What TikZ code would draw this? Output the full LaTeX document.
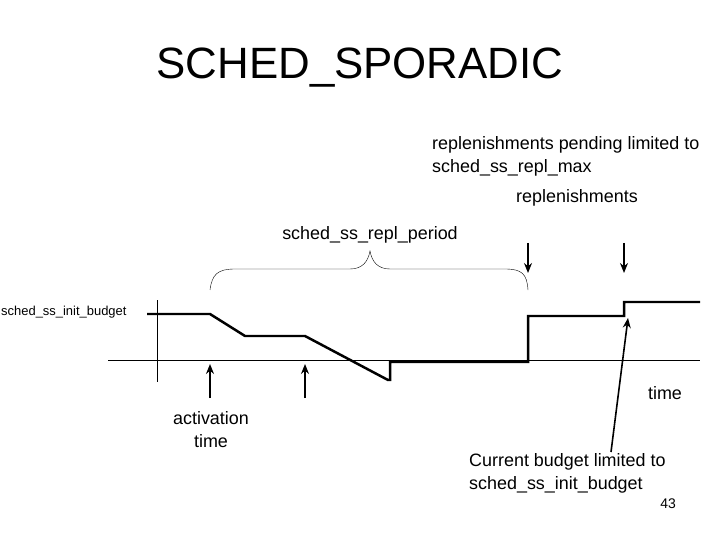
\documentclass[tikz,border=0pt]{standalone}
\usepackage{fontspec}
\setmainfont{Liberation Sans}
\usetikzlibrary{arrows.meta}
\begin{document}
\begin{tikzpicture}[x=1bp,y=-1bp,
  lbl/.style={font=\fontsize{18}{23}\selectfont,inner sep=0pt},
  arr/.style={line width=1.6pt,-{Stealth[length=10pt,width=8pt]}},
  budget/.style={line width=2.5pt,line join=miter}]
\useasboundingbox (0,0) rectangle (720,540);
\node[inner sep=0pt,font=\fontsize{44}{50}\selectfont] (title) at (360,68) {SCHED\_SPORADIC};
\node[lbl,anchor=west,align=left] (pend) at (432,156) {replenishments pending limited to\\sched\_ss\_repl\_max};
\node[lbl] (repl) at (577,198) {replenishments};
\node[lbl] (period) at (370,235) {sched\_ss\_repl\_period};
\node[inner sep=0pt,font=\fontsize{13}{15}\selectfont,anchor=west] (init) at (1,312) {sched\_ss\_init\_budget};
\node[lbl,align=center] (act) at (211,430) {activation\\time};
\node[lbl] (time) at (665,393) {time};
\node[lbl,anchor=west,align=left] (cur) at (469,473) {Current budget limited to\\sched\_ss\_init\_budget};
\node[inner sep=0pt,font=\fontsize{14}{16}\selectfont] (num) at (668,504) {43};
% brace
\draw[thin] (210,290) .. controls (212,274) and (218,269) .. (235,269) -- (350,269)
  .. controls (362,269) and (368,262) .. (370,251)
  .. controls (372,262) and (378,269) .. (390,269) -- (505,269)
  .. controls (522,269) and (527,274) .. (528,290);
% axes
\coordinate (xa) at (108,360); \coordinate (xb) at (700,360);
\coordinate (ya) at (157,300); \coordinate (yb) at (157,382);
\draw[line width=1pt] (xa) -- (xb);
\draw[thin] (ya) -- (yb);
% budget
\draw[budget] (147,314) -- (210,314) -- (245,336) -- (305,336) -- (388,380) -- (390,380) -- (390,362) -- (528,362) -- (528,316) -- (624,316) -- (624,302) -- (700,302);
% arrows
\coordinate (d1a) at (528,243); \coordinate (d1b) at (528,273);
\coordinate (d2a) at (624,243); \coordinate (d2b) at (624,273);
\draw[arr] (d1a) -- (d1b);
\draw[arr] (d2a) -- (d2b);
\coordinate (u1a) at (210,398); \coordinate (u1b) at (210,364);
\coordinate (u2a) at (305,398); \coordinate (u2b) at (305,364);
\draw[arr] (u1a) -- (u1b);
\draw[arr] (u2a) -- (u2b);
\coordinate (c1) at (611,452); \coordinate (c2) at (628,318);
\draw[arr] (c1) -- (c2);
\end{tikzpicture}
\end{document}
